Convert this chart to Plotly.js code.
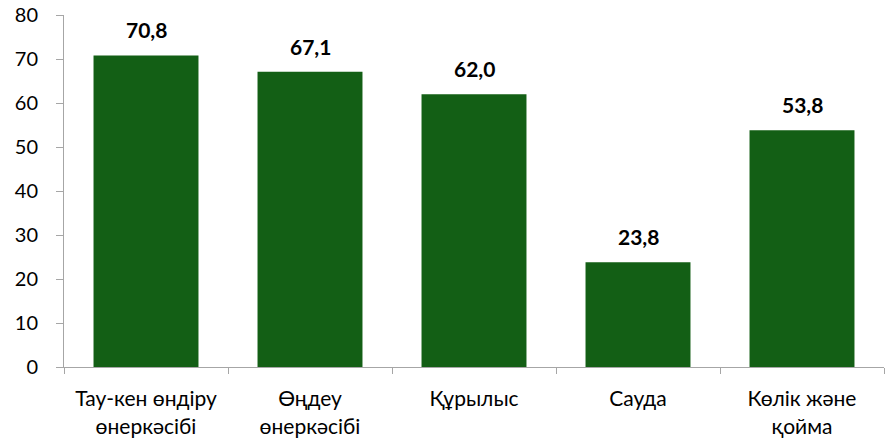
<!DOCTYPE html>
<html>
<head>
<meta charset="utf-8">
<script src="https://cdn.plot.ly/plotly-3.0.1.min.js"></script>
<style>
  html, body { margin: 0; padding: 0; background: #fff; }
  #chart { width: 885px; height: 440px; }
</style>
</head>
<body>
<div id="chart"></div>
<script>
// Sectors and their share values
const categories = [
  "Тау-кен өндіру<br>өнеркәсібі",
  "Өңдеу<br>өнеркәсібі",
  "Құрылыс",
  "Сауда",
  "Көлік және<br>қойма"
];
const values = [70.8, 67.1, 62.0, 23.8, 53.8];
const valueLabels = ["70,8", "67,1", "62,0", "23,8", "53,8"];
const yTicks = [0, 10, 20, 30, 40, 50, 60, 70, 80];

const barColor = "#135f15";
const axisColor = "#a6a6a6";
const fontFamily = "Lato, 'Open Sans', sans-serif";

const trace = {
  type: "bar",
  x: categories,
  y: values,
  marker: { color: barColor, line: { width: 0 } },
  hoverinfo: "skip"
};

// Value labels above each bar
const annotations = categories.map((c, i) => ({
  x: c,
  y: values[i],
  xref: "x",
  yref: "y",
  text: "<b>" + valueLabels[i] + "</b>",
  showarrow: false,
  yanchor: "bottom",
  yshift: 11,
  font: { family: fontFamily, size: 21, color: "#000" }
}));

const layout = {
  width: 885,
  height: 440,
  margin: { l: 64, r: 1, t: 15, b: 73 },
  paper_bgcolor: "#fff",
  plot_bgcolor: "#fff",
  showlegend: false,
  bargap: 0.36,
  font: { family: fontFamily, size: 20, color: "#000" },
  xaxis: {
    type: "category",
    showline: true,
    linecolor: axisColor,
    linewidth: 1,
    ticks: "outside",
    tickson: "boundaries",
    ticklen: 6,
    tickcolor: axisColor,
    showgrid: false,
    zeroline: false,
    tickfont: { family: fontFamily, size: 21, color: "#000" },
    ticklabelstandoff: 13
  },
  yaxis: {
    range: [0, 80],
    tickvals: yTicks,
    ticktext: yTicks.map(String),
    showline: true,
    linecolor: axisColor,
    linewidth: 1,
    ticks: "outside",
    ticklen: 7,
    tickcolor: axisColor,
    showgrid: false,
    zeroline: false,
    tickfont: { family: fontFamily, size: 20, color: "#000" },
    ticklabelstandoff: 14
  },
  annotations: annotations
};

Plotly.newPlot("chart", [trace], layout, { displayModeBar: false, staticPlot: true });
</script>
</body>
</html>
